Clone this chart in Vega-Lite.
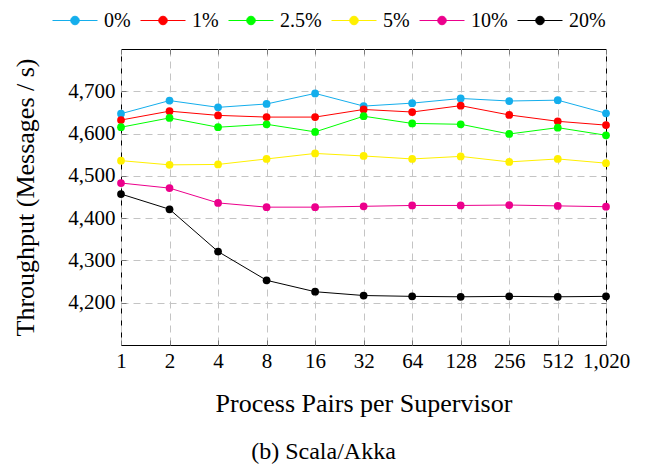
{
  "$schema": "https://vega.github.io/schema/vega-lite/v6.json",
  "width": 485,
  "height": 296,
  "autosize": {"type": "none"},
  "padding": {"left": 121, "top": 49, "right": 41, "bottom": 127},
  "background": "white",
  "title": {
    "text": "(b) Scala/Akka",
    "orient": "bottom",
    "anchor": "middle",
    "font": "Liberation Serif",
    "fontSize": 24,
    "fontWeight": "normal",
    "color": "black",
    "dx": -40,
    "offset": 24
  },
  "config": {
    "font": "Liberation Serif",
    "view": {"stroke": "black", "strokeWidth": 1},
    "title": {"font": "Liberation Serif"},
    "legend": {"labelFont": "Liberation Serif"},
    "axis": {"labelFont": "Liberation Serif", "titleFont": "Liberation Serif"}
  },
  "data": {
    "values": [
      {"x": 1, "s": "0%", "y": 4647}, {"x": 2, "s": "0%", "y": 4678}, {"x": 4, "s": "0%", "y": 4662}, {"x": 8, "s": "0%", "y": 4670}, {"x": 16, "s": "0%", "y": 4695}, {"x": 32, "s": "0%", "y": 4665}, {"x": 64, "s": "0%", "y": 4672}, {"x": 128, "s": "0%", "y": 4683}, {"x": 256, "s": "0%", "y": 4677}, {"x": 512, "s": "0%", "y": 4679}, {"x": 1020, "s": "0%", "y": 4648},
      {"x": 1, "s": "1%", "y": 4632}, {"x": 2, "s": "1%", "y": 4653}, {"x": 4, "s": "1%", "y": 4643}, {"x": 8, "s": "1%", "y": 4639}, {"x": 16, "s": "1%", "y": 4639}, {"x": 32, "s": "1%", "y": 4657}, {"x": 64, "s": "1%", "y": 4651}, {"x": 128, "s": "1%", "y": 4666}, {"x": 256, "s": "1%", "y": 4644}, {"x": 512, "s": "1%", "y": 4629}, {"x": 1020, "s": "1%", "y": 4620},
      {"x": 1, "s": "2.5%", "y": 4615}, {"x": 2, "s": "2.5%", "y": 4637}, {"x": 4, "s": "2.5%", "y": 4615}, {"x": 8, "s": "2.5%", "y": 4622}, {"x": 16, "s": "2.5%", "y": 4604}, {"x": 32, "s": "2.5%", "y": 4641}, {"x": 64, "s": "2.5%", "y": 4624}, {"x": 128, "s": "2.5%", "y": 4622}, {"x": 256, "s": "2.5%", "y": 4599}, {"x": 512, "s": "2.5%", "y": 4614}, {"x": 1020, "s": "2.5%", "y": 4596},
      {"x": 1, "s": "5%", "y": 4536}, {"x": 2, "s": "5%", "y": 4526}, {"x": 4, "s": "5%", "y": 4527}, {"x": 8, "s": "5%", "y": 4540}, {"x": 16, "s": "5%", "y": 4553}, {"x": 32, "s": "5%", "y": 4547}, {"x": 64, "s": "5%", "y": 4540}, {"x": 128, "s": "5%", "y": 4546}, {"x": 256, "s": "5%", "y": 4533}, {"x": 512, "s": "5%", "y": 4540}, {"x": 1020, "s": "5%", "y": 4530},
      {"x": 1, "s": "10%", "y": 4483}, {"x": 2, "s": "10%", "y": 4471}, {"x": 4, "s": "10%", "y": 4436}, {"x": 8, "s": "10%", "y": 4426}, {"x": 16, "s": "10%", "y": 4426}, {"x": 32, "s": "10%", "y": 4428}, {"x": 64, "s": "10%", "y": 4430}, {"x": 128, "s": "10%", "y": 4430}, {"x": 256, "s": "10%", "y": 4431}, {"x": 512, "s": "10%", "y": 4429}, {"x": 1020, "s": "10%", "y": 4427},
      {"x": 1, "s": "20%", "y": 4457}, {"x": 2, "s": "20%", "y": 4421}, {"x": 4, "s": "20%", "y": 4321}, {"x": 8, "s": "20%", "y": 4253}, {"x": 16, "s": "20%", "y": 4226}, {"x": 32, "s": "20%", "y": 4217}, {"x": 64, "s": "20%", "y": 4215}, {"x": 128, "s": "20%", "y": 4214}, {"x": 256, "s": "20%", "y": 4215}, {"x": 512, "s": "20%", "y": 4214}, {"x": 1020, "s": "20%", "y": 4215}
    ]
  },
  "layer": [
    {
      "mark": {"type": "point", "opacity": 0},
      "encoding": {
        "x": {
          "field": "x",
          "type": "quantitative",
          "scale": {"type": "log", "base": 2, "domain": [1, 1020], "nice": false},
          "axis": {
            "orient": "top",
            "values": [1, 2, 4, 8, 16, 32, 64, 128, 256, 512, 1020],
            "labels": false,
            "title": null,
            "grid": false,
            "domain": false,
            "ticks": true,
            "tickSize": -5,
            "tickColor": "#7a7a7a",
            "tickWidth": 1
          }
        },
        "y": {
          "field": "y",
          "type": "quantitative",
          "scale": {"domain": [4100, 4800], "nice": false, "zero": false},
          "axis": {
            "orient": "right",
            "values": [4200, 4300, 4400, 4500, 4600, 4700],
            "labels": false,
            "title": null,
            "grid": false,
            "domain": false,
            "ticks": true,
            "tickSize": -5,
            "tickColor": "#7a7a7a",
            "tickWidth": 1
          }
        }
      }
    },
    {
      "mark": {
        "type": "line",
        "strokeWidth": 1,
        "point": {"filled": true, "size": 60, "opacity": 1}
      },
      "encoding": {
        "x": {
          "field": "x",
          "type": "quantitative",
          "scale": {"type": "log", "base": 2, "domain": [1, 1020], "nice": false},
          "axis": {
            "orient": "bottom",
            "values": [1, 2, 4, 8, 16, 32, 64, 128, 256, 512, 1020],
            "format": ",d",
            "title": "Process Pairs per Supervisor",
            "titleFont": "Liberation Serif",
            "titleFontSize": 26,
            "titleFontWeight": "normal",
            "titleColor": "black",
            "titleY": 66,
            "titleBaseline": "alphabetic",
            "labelFont": "Liberation Serif",
            "labelFontSize": 21,
            "labelColor": "black",
            "labelPadding": 10,
            "labelFlush": false,
            "labelOverlap": false,
            "ticks": true,
            "tickSize": -5,
            "tickColor": "#7a7a7a",
            "tickWidth": 1,
            "domain": false,
            "grid": true,
            "gridColor": "#c4c4c4",
            "gridDash": [7, 5],
            "gridWidth": 1
          }
        },
        "y": {
          "field": "y",
          "type": "quantitative",
          "scale": {"domain": [4100, 4800], "nice": false, "zero": false},
          "axis": {
            "orient": "left",
            "values": [4200, 4300, 4400, 4500, 4600, 4700],
            "format": ",d",
            "title": "Throughput (Messages / s)",
            "titleFont": "Liberation Serif",
            "titleFontSize": 26,
            "titleFontWeight": "normal",
            "titleColor": "black",
            "titleX": -96,
            "titleY": 148,
            "titleAngle": -90,
            "titleAlign": "center",
            "titleBaseline": "middle",
            "labelFont": "Liberation Serif",
            "labelFontSize": 21,
            "labelColor": "black",
            "labelPadding": 11,
            "labelFlush": false,
            "ticks": true,
            "tickSize": -5,
            "tickColor": "#7a7a7a",
            "tickWidth": 1,
            "domain": false,
            "grid": true,
            "gridColor": "#c4c4c4",
            "gridDash": [7, 5],
            "gridWidth": 1
          }
        },
        "color": {
          "field": "s",
          "type": "nominal",
          "scale": {
            "domain": ["0%", "1%", "2.5%", "5%", "10%", "20%"],
            "range": ["#14aeec", "#ff0000", "#00ff00", "#fff000", "#ec008c", "#000000"]
          },
          "legend": {
            "title": null,
            "orient": "none",
            "direction": "horizontal",
            "columns": 6,
            "legendX": -69,
            "legendY": -51.5,
            "padding": 0,
            "symbolType": "M-1,0H1M-0.19,0A0.19,0.19,0,1,1,0.19,0A0.19,0.19,0,1,1,-0.19,0Z",
            "symbolSize": 2025,
            "symbolStrokeWidth": 1,
            "labelFont": "Liberation Serif",
            "labelFontSize": 20,
            "labelColor": "black",
            "labelOffset": 6,
            "columnPadding": 7,
            "encode": {
              "symbols": {
                "update": {
                  "fill": {"scale": "color", "field": "value"},
                  "stroke": {"scale": "color", "field": "value"},
                  "opacity": {"value": 1}
                }
              }
            }
          }
        }
      }
    }
  ]
}
